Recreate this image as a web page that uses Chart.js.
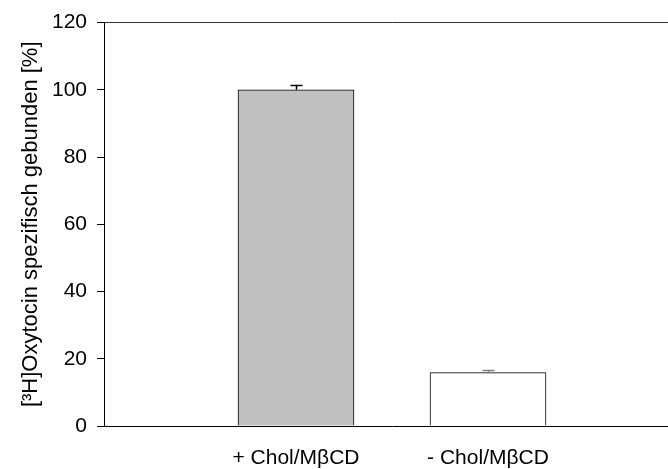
<!DOCTYPE html>
<html>
<head>
<meta charset="utf-8">
<script src="https://cdn.jsdelivr.net/npm/chart.js@4"></script>
<style>
  body { margin: 0; overflow: hidden; background: #fff; }
  #wrap { width: 700px; height: 469px; }
</style>
</head>
<body>
<div id="wrap"><canvas id="myChart"></canvas></div>
<script>
const categories = ['+ Chol/M\u03B2CD', '- Chol/M\u03B2CD'];
const positions = [1, 2];
const values = [100, 15.9];
const errors = [1.4, 0.8];
const barColors = ['#c0c0c0', '#ffffff'];
const capColors = ['#000000', '#808080'];
const yTicks = [0, 20, 40, 60, 80, 100, 120];

const font = 'Liberation Sans, Arial, Helvetica, sans-serif';

// upper error bars only, the lower half sits inside the bar
const errorBars = {
  id: 'errorBars',
  afterDatasetsDraw(chart) {
    const c = chart.ctx;
    const xs = chart.scales.x, ys = chart.scales.y;
    c.save();
    c.lineWidth = 1.5;
    values.forEach((v, i) => {
      const x = Math.round(xs.getPixelForValue(positions[i])) + 0.5;
      const y0 = ys.getPixelForValue(v);
      const y1 = Math.round(ys.getPixelForValue(v + errors[i])) + 0.5;
      c.strokeStyle = capColors[i];
      c.beginPath();
      c.moveTo(x, y0);
      c.lineTo(x, y1);
      c.moveTo(x - 6, y1);
      c.lineTo(x + 6, y1);
      c.stroke();
    });
    c.restore();
  }
};

let myChart = new Chart(document.getElementById('myChart').getContext('2d'), {
  type: 'bar',
  data: {
    datasets: [{
      data: values.map((v, i) => ({x: positions[i], y: v})),
      backgroundColor: barColors,
      borderColor: '#000',
      borderWidth: 1,
      barThickness: 116
    }]
  },
  options: {
    responsive: true,
    maintainAspectRatio: false,
    animation: false,
    layout: { padding: { top: 22, right: 20, left: 0, bottom: 0 } },
    plugins: { legend: { display: false }, tooltip: { enabled: false } },
    scales: {
      x: {
        type: 'linear',
        offset: false,
        min: 0,
        max: 3,
        afterBuildTicks: (axis) => { axis.ticks = positions.map(p => ({value: p})); },
        afterFit: (scale) => { scale.height = 43; },
        grid: { display: false, drawTicks: false, offset: false },
        border: { display: true, color: '#000', width: 1 },
        ticks: {
          color: '#000',
          font: { family: font, size: 21 },
          padding: 20,
          maxRotation: 0,
          callback: (v) => categories[positions.indexOf(v)]
        }
      },
      y: {
        min: 0,
        max: 120,
        afterBuildTicks: (axis) => { axis.ticks = yTicks.map(t => ({value: t})); },
        afterFit: (scale) => { scale.width = 104; },
        grid: {
          color: (ctx) => ctx.tick && ctx.tick.value === 120 ? '#333' : 'rgba(0,0,0,0)',
          tickColor: '#000',
          tickLength: 7,
          drawTicks: true
        },
        border: { display: true, color: '#000', width: 1 },
        ticks: {
          color: '#000',
          font: { family: font, size: 21 },
          padding: 10
        },
        title: {
          display: true,
          text: '[\u00B3H]Oxytocin spezifisch gebunden [%]',
          color: '#000',
          font: { family: font, size: 22 },
          padding: { top: 18, bottom: 0 }
        }
      }
    }
  },
  plugins: [errorBars]
});
</script>
</body>
</html>
